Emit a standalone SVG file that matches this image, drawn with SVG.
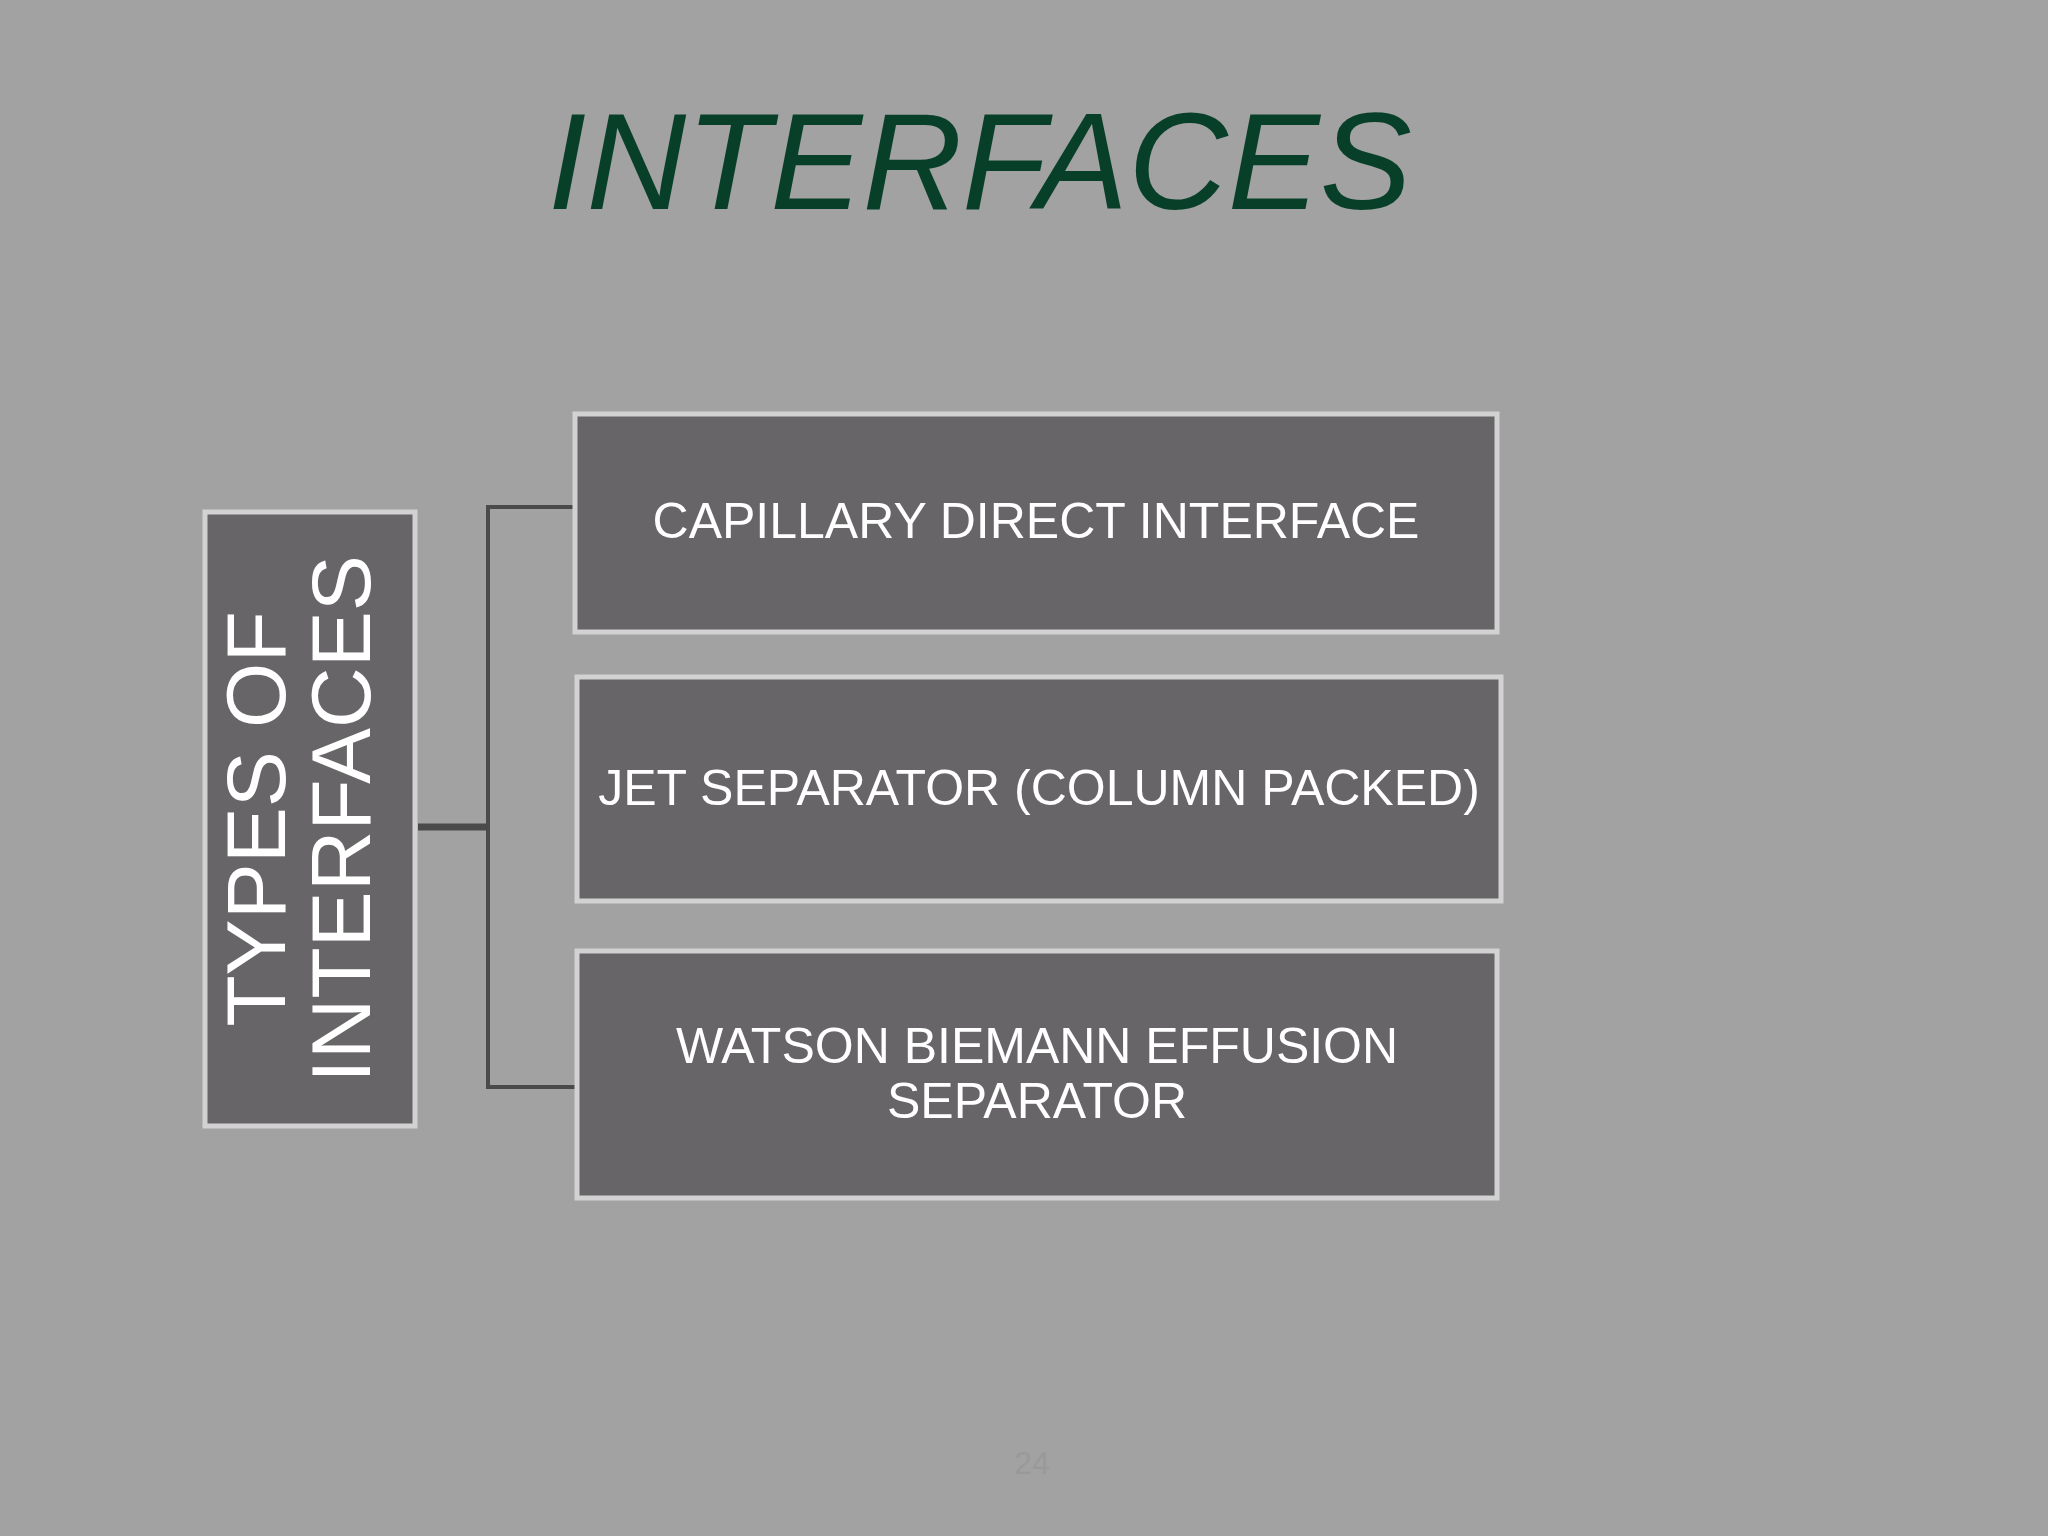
<svg xmlns="http://www.w3.org/2000/svg" width="2048" height="1536" viewBox="0 0 2048 1536">
<style>
.box{fill:#676567;stroke:#d2d2d2;stroke-width:5}
.t{font-family:"Liberation Sans",Arial,sans-serif;fill:#ffffff;text-anchor:middle}
.c{stroke:#4a4a4a;fill:none}
</style>
<rect width="2048" height="1536" fill="#a3a2a3"/>
<text x="980" y="209" font-family="Liberation Sans,Arial,sans-serif" font-style="italic" font-size="138" fill="#073f28" text-anchor="middle">INTERFACES</text>
<g id="connectors">
<path class="c" stroke-width="7" d="M418 827H490"/>
<path class="c" stroke-width="4" d="M575 507H488V1087H577"/>
</g>
<g id="types">
<rect class="box" x="205" y="512" width="210" height="614"/>
<g transform="translate(310,819) rotate(-90)">
<text class="t" x="0" y="-25" font-size="84">TYPES OF</text>
<text class="t" x="0" y="60" font-size="84">INTERFACES</text>
</g>
</g>
<g id="capillary">
<rect class="box" x="575" y="414" width="922" height="218"/>
<text class="t" x="1036" y="538" font-size="50">CAPILLARY DIRECT INTERFACE</text>
</g>
<g id="jet">
<rect class="box" x="577" y="677" width="924" height="224"/>
<text class="t" x="1039" y="805" font-size="50">JET SEPARATOR (COLUMN PACKED)</text>
</g>
<g id="watson">
<rect class="box" x="577" y="951" width="920" height="247"/>
<text class="t" x="1037" y="1063" font-size="50">WATSON BIEMANN EFFUSION</text>
<text class="t" x="1037" y="1118" font-size="50">SEPARATOR</text>
</g>
<text x="1032" y="1474" font-family="Liberation Sans,Arial,sans-serif" font-size="32" fill="#9a999a" text-anchor="middle">24</text>
</svg>
